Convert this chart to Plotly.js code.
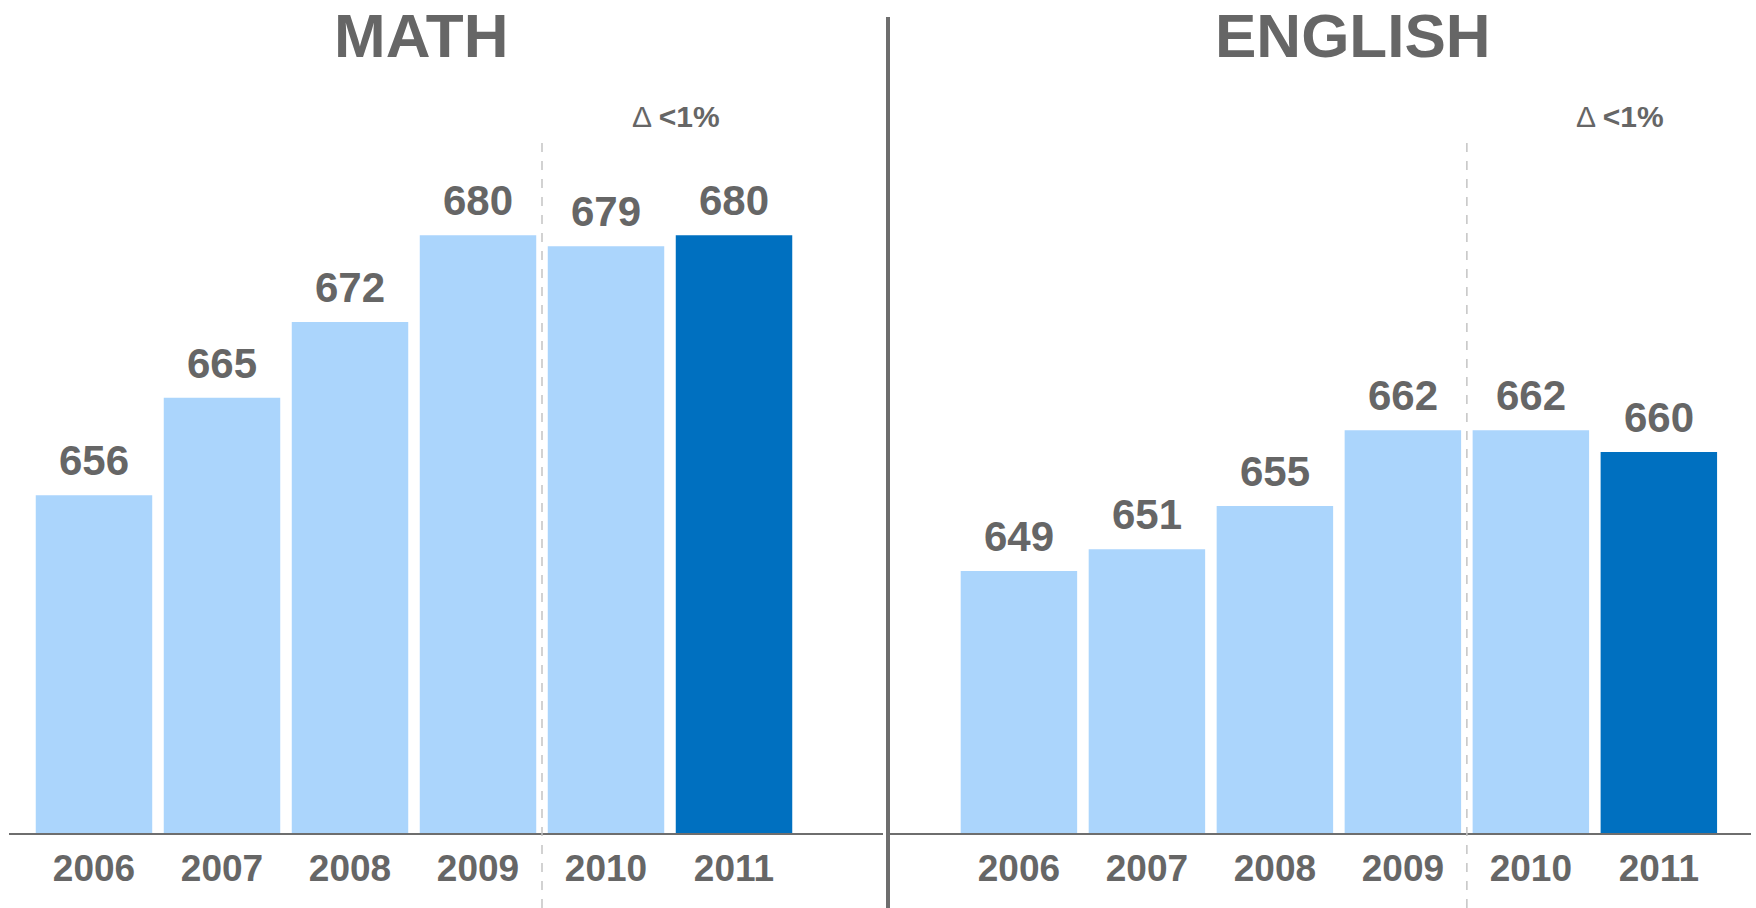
<!DOCTYPE html>
<html>
<head>
<meta charset="utf-8">
<script src="https://cdn.plot.ly/plotly-3.0.1.min.js"></script>
<style>html,body{margin:0;padding:0;background:#fff;}#chart{width:1756px;height:908px;}</style>
</head>
<body>
<div id="chart"></div>
<script>
const years = ["2006", "2007", "2008", "2009", "2010", "2011"];
const mathScores = [656, 665, 672, 680, 679, 680];
const englishScores = [649, 651, 655, 662, 662, 660];
const panelTitles = ["MATH", "ENGLISH"];
const deltaLabel = "Δ <1%";
const highlightYear = "2011";

const GRAY = "#666666";
const LIGHT = "#ABD5FC";
const DARK = "#0070C0";
const FONT = "Liberation Sans, Arial, sans-serif";
const W = 1756, H = 908;

const colors = years.map(y => y === highlightYear ? DARK : LIGHT);

function barTrace(vals, xa, ya) {
  return {
    type: "bar", x: years, y: vals, xaxis: xa, yaxis: ya,
    marker: {color: colors, line: {width: 0}},
    hoverinfo: "skip"
  };
}

const data = [
  barTrace(mathScores, "x", "y"),
  barTrace(englishScores, "x2", "y2")
];

const annotations = [];
function valueLabels(vals, xr, yr) {
  vals.forEach((v, i) => {
    annotations.push({
      x: i, y: v, xref: xr, yref: yr, text: String(v),
      showarrow: false, xanchor: "center", yanchor: "bottom", yshift: 9,
      font: {family: FONT, size: 42, color: GRAY, weight: "bold"}
    });
  });
}
valueLabels(mathScores, "x", "y");
valueLabels(englishScores, "x2", "y2");

annotations.push({
  x: 421 / W, y: 1 - 35 / H, xref: "paper", yref: "paper", text: panelTitles[0],
  showarrow: false, xanchor: "center", yanchor: "middle",
  font: {family: FONT, size: 62, color: GRAY, weight: "bold"}
});
annotations.push({
  x: 1353 / W, y: 1 - 35 / H, xref: "paper", yref: "paper", text: panelTitles[1],
  showarrow: false, xanchor: "center", yanchor: "middle",
  font: {family: FONT, size: 62, color: GRAY, weight: "bold"}
});
function deltaText(s) {
  const parts = s.split(" ");
  return parts[0] + " <b>" + parts.slice(1).join(" ").replace("<", "&lt;") + "</b>";
}
annotations.push({
  x: 4.55, y: 1 - 116 / H, xref: "x", yref: "paper", text: deltaText(deltaLabel),
  showarrow: false, xanchor: "center", yanchor: "middle",
  font: {family: FONT, size: 30, color: GRAY}
});
annotations.push({
  x: 4.7, y: 1 - 116 / H, xref: "x2", yref: "paper", text: deltaText(deltaLabel),
  showarrow: false, xanchor: "center", yanchor: "middle",
  font: {family: FONT, size: 30, color: GRAY}
});

const yRange = [624.8, 692.5];
const yDomain = [(H - 833) / H, (H - 100) / H];

function xAxis(domain, range, anchor) {
  return {
    domain: domain, range: range, anchor: anchor, type: "category",
    showline: true, linecolor: "#6e6e6e", linewidth: 2,
    showgrid: false, zeroline: false, ticks: "",
    tickfont: {family: FONT, size: 37, color: GRAY, weight: "bold"},
    ticklabelstandoff: 2, fixedrange: true
  };
}
function yAxis(anchor) {
  return {
    domain: yDomain, range: yRange, anchor: anchor,
    visible: false, showgrid: false, zeroline: false, fixedrange: true
  };
}

const layout = {
  width: W, height: H,
  margin: {l: 0, r: 0, t: 0, b: 0},
  paper_bgcolor: "#fff", plot_bgcolor: "rgba(0,0,0,0)",
  showlegend: false, bargap: 0.09, hovermode: false,
  xaxis: xAxis([9 / W, 883 / W], [-0.664, 6.164], "y"),
  yaxis: yAxis("x"),
  xaxis2: xAxis([888 / W, 1751 / W], [-1.023, 5.72], "y2"),
  yaxis2: yAxis("x2"),
  annotations: annotations,
  shapes: [
    {type: "line", xref: "paper", yref: "paper", x0: 888 / W, x1: 888 / W, y0: 0, y1: 1 - 17 / H,
     line: {color: "#6e6e6e", width: 4}},
    {type: "line", xref: "x", yref: "paper", x0: 3.5, x1: 3.5, y0: 0, y1: 1 - 142 / H,
     line: {color: "#c4c4c4", width: 1.5, dash: "dash"}},
    {type: "line", xref: "x2", yref: "paper", x0: 3.5, x1: 3.5, y0: 0, y1: 1 - 142 / H,
     line: {color: "#c4c4c4", width: 1.5, dash: "dash"}}
  ]
};

Plotly.newPlot("chart", data, layout, {displayModeBar: false, staticPlot: true});
</script>
</body>
</html>
